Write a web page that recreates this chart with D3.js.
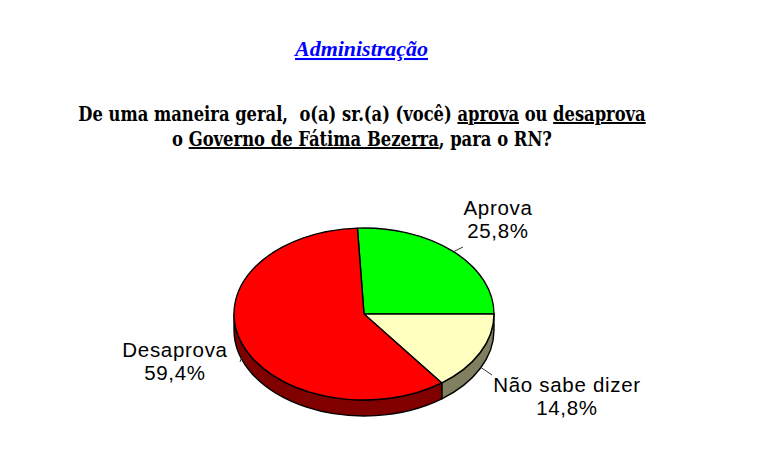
<!DOCTYPE html>
<html>
<head>
<meta charset="utf-8">
<script src="https://cdn.jsdelivr.net/npm/d3@7"></script>
<style>
  html, body { margin: 0; padding: 0; background: #fff; }
  svg text { white-space: pre; }
</style>
</head>
<body>
<div id="chart"></div>
<script>
// data
const categories = ["Aprova", "Não sabe dizer", "Desaprova"];
const values = [25.8, 14.8, 59.4];
const valueLabels = ["25,8%", "14,8%", "59,4%"];
const topColors = ["#00ff00", "#ffffc0", "#ff0000"];
const sideColors = ["#008000", "#808060", "#800000"];

const titleText = "Administração";
// question lines, split in pieces: [text, underlined]
const questionLines = [
  [["De uma maneira geral,  o(a) sr.(a) (você) ", false], ["aprova", true], [" ou ", false], ["desaprova", true]],
  [["o ", false], ["Governo de Fátima Bezerra", true], [", para o RN?", false]]
];

const width = 758, height = 468;

const svg = d3.select("#chart").append("svg")
  .attr("width", width)
  .attr("height", height);

// squeeze a text element horizontally to a given width, centred on cx
function fitWidth(sel, cx, y, len) {
  sel.attr("x", 0).attr("y", 0).attr("text-anchor", "middle");
  const w = sel.node().getComputedTextLength() || len;
  sel.attr("transform", `translate(${cx},${y}) scale(${len / w},1)`);
}

// ---- titles ----
const title = svg.append("text")
  .attr("font-family", "'Liberation Serif', serif")
  .attr("font-weight", "bold")
  .attr("font-style", "italic")
  .attr("font-size", 21)
  .attr("fill", "#0000ff")
  .attr("text-decoration", "underline")
  .text(titleText);
fitWidth(title, 361.5, 56, 133);

const lineSpecs = [
  { y: 121, len: 568 },
  { y: 146, len: 380 }
];

questionLines.forEach((parts, i) => {
  const t = svg.append("text")
    .attr("font-family", "'DejaVu Serif Condensed', 'DejaVu Serif', serif")
    .attr("font-weight", "bold")
    .attr("font-size", 19.5)
    .attr("fill", "#000");
  parts.forEach(([s, u]) => {
    const ts = t.append("tspan").text(s);
    if (u) ts.attr("text-decoration", "underline");
  });
  fitWidth(t, 362, lineSpecs[i].y, lineSpecs[i].len);
});

// ---- 3D pie ----
const cx = 364, cy = 314, rx = 130, ry = 86, depth = 16;
const startDeg = -2.9;

const pie = d3.pie()
  .sort(null)
  .value(d => d)
  .startAngle(startDeg * Math.PI / 180)
  .endAngle(startDeg * Math.PI / 180 + 2 * Math.PI);

const arcs = pie(values);

function pt(a, dy = 0) {
  return [cx + rx * Math.sin(a), cy - ry * Math.cos(a) + dy];
}

// side walls (front half only)
const sideG = svg.append("g");
arcs.forEach((d, i) => {
  const a0 = Math.max(d.startAngle, Math.PI / 2);
  const a1 = Math.min(d.endAngle, 3 * Math.PI / 2);
  if (a1 <= a0) return;
  const s = pt(a0), e = pt(a1), eb = pt(a1, depth), sb = pt(a0, depth);
  const dStr = `M${s[0]},${s[1]}`
    + `A${rx},${ry} 0 0 1 ${e[0]},${e[1]}`
    + `L${eb[0]},${eb[1]}`
    + `A${rx},${ry} 0 0 0 ${sb[0]},${sb[1]}Z`;
  sideG.append("path")
    .attr("d", dStr)
    .attr("fill", sideColors[i])
    .attr("stroke", "#000")
    .attr("stroke-width", 1.4)
    .attr("stroke-linejoin", "round");
});

// top faces
const arcGen = d3.arc().innerRadius(0).outerRadius(rx);
const topG = svg.append("g")
  .attr("transform", `translate(${cx},${cy}) scale(1,${ry / rx})`);
topG.selectAll("path")
  .data(arcs)
  .enter()
  .append("path")
  .attr("d", arcGen)
  .attr("fill", (d, i) => topColors[i])
  .attr("stroke", "#000")
  .attr("stroke-width", 1.4)
  .attr("stroke-linejoin", "round")
  .attr("vector-effect", "non-scaling-stroke");

// ---- labels ----
const labelPos = [
  { x: 498, y: 215, lead: [463, 247], front: false },
  { x: 567, y: 392, lead: [492, 375], front: true },
  { x: 175, y: 357, lead: [240, 362], front: true }
];

arcs.forEach((d, i) => {
  const mid = (d.startAngle + d.endAngle) / 2;
  const lp = labelPos[i];
  const p0 = pt(mid, lp.front ? depth * 0.9 : 0);
  svg.append("line")
    .attr("x1", p0[0]).attr("y1", p0[1])
    .attr("x2", lp.lead[0]).attr("y2", lp.lead[1])
    .attr("stroke", "#333")
    .attr("stroke-width", 1);

  const t = svg.append("text")
    .attr("text-anchor", "middle")
    .attr("font-family", "'Liberation Sans', Arial, sans-serif")
    .attr("font-size", 20.5)
    .attr("letter-spacing", 0.7)
    .attr("fill", "#000");
  t.append("tspan").attr("x", lp.x).attr("y", lp.y).text(categories[i]);
  t.append("tspan").attr("x", lp.x).attr("y", lp.y + 23).text(valueLabels[i]);
});
</script>
</body>
</html>
